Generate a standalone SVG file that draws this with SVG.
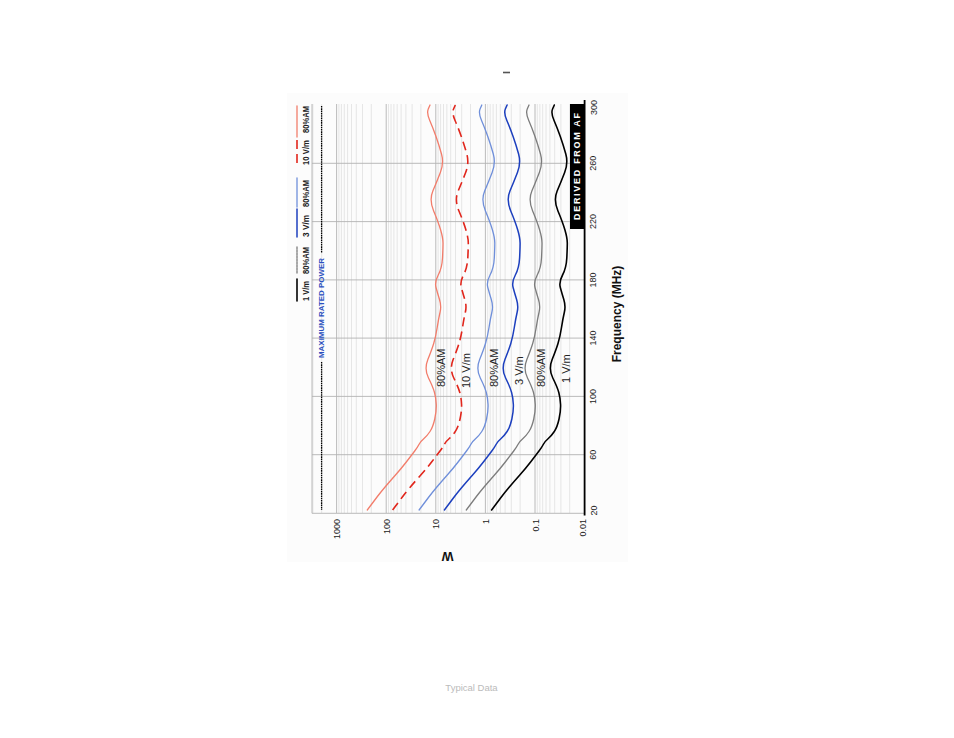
<svg xmlns="http://www.w3.org/2000/svg" xmlns:xlink="http://www.w3.org/1999/xlink" width="954" height="738" viewBox="0 0 954 738">
<style>
.t{font-family:"Liberation Sans",Arial,sans-serif}
.gmin{stroke:#e0e0e0;stroke-width:0.8;fill:none}
.gmaj{stroke:#b2b2b2;stroke-width:0.9;fill:none}
.crv{fill:none;stroke-linejoin:round;stroke-linecap:round}
.salmon{stroke:#f27d6b;stroke-width:1.3}
.red{stroke:#e1261c;stroke-width:1.6;stroke-dasharray:9 5;stroke-linecap:butt}
.lblue{stroke:#6f8fda;stroke-width:1.3}
.blue{stroke:#1c3fbe;stroke-width:1.5}
.gray{stroke:#7c7c7c;stroke-width:1.3}
.black{stroke:#000;stroke-width:1.6}
.tick{font-size:9px;fill:#222}
.leg{font-size:9px;font-weight:bold;fill:#222}
.cl{font-size:11px;fill:#222}
</style>
<defs>
<path id="base" fill="none" d="M367.3,510 L370.3,506 Q373.3,502 376.65,497.5 Q380,493 384.65,487.5 Q389.3,482 395.5,475 Q401.7,468 406.7,461.5 Q411.7,455 414.7,451 Q417.7,447 419.1,444.25 Q420.5,441.5 423.75,438.75 Q427,436 430,431.5 Q433,427 434.75,419 Q436.5,411 436.25,404.5 Q436,398 434.5,392.5 Q433,387 428.5,378 Q424,369 427.85,359.5 Q431.7,350 433.7,343.5 Q435.7,337 437.2,327.5 Q438.7,318 440.1,312 Q441.5,306 439.5,299.5 Q437.5,293 436,287.5 Q434.5,282 438.25,275 Q442,268 442.5,258 Q443,248 443,243 Q443,238 440.65,230 Q438.3,222 433.65,211 Q429,200 432.85,191 Q436.7,182 440.35,172.5 Q444,163 441.5,154 Q439,145 436,136.5 Q433,128 429.75,120.5 Q426.5,113 428.25,109 L430,105"/>
</defs>
<rect x="0" y="0" width="954" height="738" fill="#fff"/>
<rect id="panel" x="287" y="93" width="341" height="469" fill="#fcfcfc"/>
<rect x="503" y="71.7" width="7" height="1.6" fill="#555"/>

<g id="grid">
<path class="gmin" d="M569.7 104V513M560.9 104V513M554.7 104V513M549.9 104V513M546 104V513M542.7 104V513M539.8 104V513M537.3 104V513M520.1 104V513M511.3 104V513M505.1 104V513M500.3 104V513M496.4 104V513M493.1 104V513M490.2 104V513M487.7 104V513M470.5 104V513M461.7 104V513M455.5 104V513M450.7 104V513M446.8 104V513M443.5 104V513M440.6 104V513M438.1 104V513M420.9 104V513M412.1 104V513M405.9 104V513M401.1 104V513M397.2 104V513M393.9 104V513M391 104V513M388.5 104V513M371.3 104V513M362.5 104V513M356.3 104V513M351.5 104V513M347.6 104V513M344.3 104V513M341.4 104V513M338.9 104V513M321.7 104V513M312.9 104V513"/>
<path class="gmaj" d="M535 104V513M485.4 104V513M435.8 104V513M386.2 104V513M336.6 104V513M312 454.7H584.6M312 396.4H584.6M312 338.1H584.6M312 279.9H584.6M312 221.6H584.6M312 163.3H584.6M312 104V513.3H584.6"/>
<path d="M584.6 100V515.5" stroke="#000" stroke-width="1.8" fill="none"/>
</g>

<g id="tick-labels" class="t tick">
<text x="596.5" y="510.5" text-anchor="middle" transform="rotate(-90 596.5 510.5)">20</text>
<text x="596.5" y="454.7" text-anchor="middle" transform="rotate(-90 596.5 454.7)">60</text>
<text x="596.5" y="396.4" text-anchor="middle" transform="rotate(-90 596.5 396.4)">100</text>
<text x="596.5" y="338.1" text-anchor="middle" transform="rotate(-90 596.5 338.1)">140</text>
<text x="596.5" y="279.9" text-anchor="middle" transform="rotate(-90 596.5 279.9)">180</text>
<text x="596.5" y="221.6" text-anchor="middle" transform="rotate(-90 596.5 221.6)">220</text>
<text x="596.5" y="163.3" text-anchor="middle" transform="rotate(-90 596.5 163.3)">260</text>
<text x="596.5" y="107.5" text-anchor="middle" transform="rotate(-90 596.5 107.5)">300</text>
<text x="340.2" y="519" text-anchor="end" transform="rotate(-90 340.2 519)">1000</text>
<text x="389.8" y="519" text-anchor="end" transform="rotate(-90 389.8 519)">100</text>
<text x="439.4" y="519" text-anchor="end" transform="rotate(-90 439.4 519)">10</text>
<text x="489" y="519" text-anchor="end" transform="rotate(-90 489 519)">1</text>
<text x="538.6" y="519" text-anchor="end" transform="rotate(-90 538.6 519)">0.1</text>
<text x="585.5" y="519" text-anchor="end" transform="rotate(-90 585.5 519)">0.01</text>
</g>

<g id="axis-titles" class="t">
<text x="621" y="314" text-anchor="middle" font-size="12" font-weight="bold" fill="#111" transform="rotate(-90 621 314)">Frequency (MHz)</text>
<text x="447.7" y="552" text-anchor="middle" font-size="12.5" font-weight="bold" fill="#111" transform="rotate(180 447.7 552)">W</text>
</g>

<g id="max-rated-power">
<path d="M321.6 106V253M321.6 362V510" stroke="#000" stroke-width="1.3" stroke-dasharray="1.6 0.7" fill="none"/>
<text class="t" x="324.3" y="308" text-anchor="middle" font-size="7.5" font-weight="bold" fill="#2b50c0" textLength="100" lengthAdjust="spacingAndGlyphs" transform="rotate(-90 324.3 308)">MAXIMUM RATED POWER</text>
</g>

<g id="derived-from-af">
<rect x="570" y="104" width="14" height="125" fill="#000"/>
<text class="t" x="580" y="166.5" text-anchor="middle" font-size="9" font-weight="bold" fill="#fff" textLength="107" lengthAdjust="spacing" transform="rotate(-90 580 166.5)">DERIVED FROM AF</text>
</g>

<g id="connectors">
<use xlink:href="#base" href="#base" class="crv salmon"/>
<use xlink:href="#base" href="#base" class="crv red" x="25.3"/>
<use xlink:href="#base" href="#base" class="crv lblue" x="51.8"/>
<use xlink:href="#base" href="#base" class="crv blue" x="77.1"/>
<use xlink:href="#base" href="#base" class="crv gray" x="99"/>
<use xlink:href="#base" href="#base" class="crv black" x="124.3"/>
</g>

<g id="curve-labels" class="t cl">
<text x="445" y="387" transform="rotate(-90 445 387)">80%AM</text>
<text x="470" y="388" transform="rotate(-90 470 388)">10 V/m</text>
<text x="498.3" y="387" transform="rotate(-90 498.3 387)">80%AM</text>
<text x="523.3" y="385" transform="rotate(-90 523.3 385)">3 V/m</text>
<text x="545" y="387" transform="rotate(-90 545 387)">80%AM</text>
<text x="570" y="383" transform="rotate(-90 570 383)">1 V/m</text>
</g>

<g id="legend">
<g id="leg-salmon">
<path d="M297 106V137" class="crv salmon" stroke-width="1.6"/>
<text class="t leg" x="308.5" y="133" textLength="27" lengthAdjust="spacingAndGlyphs" transform="rotate(-90 308.5 133)">80%AM</text>
</g>
<g id="leg-red">
<path d="M297 140V165" class="crv red" stroke-dasharray="4 5"/>
<text class="t leg" x="308.5" y="165" textLength="25" lengthAdjust="spacingAndGlyphs" transform="rotate(-90 308.5 165)">10 V/m</text>
</g>
<g id="leg-lblue">
<path d="M297 178V207" class="crv lblue" stroke-width="1.6"/>
<text class="t leg" x="308.5" y="207" textLength="27" lengthAdjust="spacingAndGlyphs" transform="rotate(-90 308.5 207)">80%AM</text>
</g>
<g id="leg-blue">
<path d="M297 209V237" class="crv blue"/>
<text class="t leg" x="308.5" y="237" textLength="22" lengthAdjust="spacingAndGlyphs" transform="rotate(-90 308.5 237)">3 V/m</text>
</g>
<g id="leg-gray">
<path d="M297 247V273" class="crv gray" stroke-dasharray="2 1" stroke-linecap="butt"/>
<text class="t leg" x="308.5" y="274" textLength="27" lengthAdjust="spacingAndGlyphs" transform="rotate(-90 308.5 274)">80%AM</text>
</g>
<g id="leg-black">
<path d="M297 279V301" class="crv black"/>
<text class="t leg" x="308.5" y="301" textLength="20" lengthAdjust="spacingAndGlyphs" transform="rotate(-90 308.5 301)">1 V/m</text>
</g>
</g>

<text class="t" x="471.5" y="691" text-anchor="middle" font-size="9.5" fill="#bbb">Typical Data</text>
</svg>
